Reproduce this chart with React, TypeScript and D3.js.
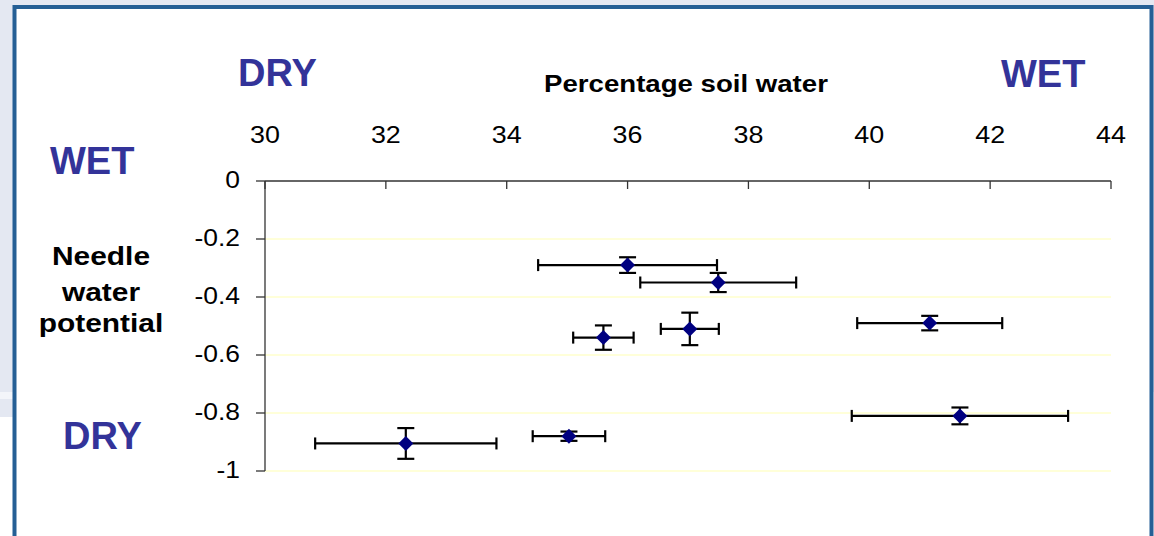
import React from "react";
import * as d3 from "d3";

// Soil water (%) and needle water potential, with standard errors on both axes
const soilWater = [36.0, 37.5, 35.6, 37.03, 41.0, 41.5, 32.33, 35.03];
const soilWaterErr = [1.48, 1.29, 0.5, 0.48, 1.2, 1.79, 1.5, 0.6];
const needlePotential = [-0.29, -0.35, -0.54, -0.51, -0.49, -0.81, -0.905, -0.88];
const needleErr = [0.027, 0.033, 0.042, 0.056, 0.025, 0.029, 0.053, 0.016];

const xTicks = [30, 32, 34, 36, 38, 40, 42, 44];
const yTicks = [0, -0.2, -0.4, -0.6, -0.8, -1];
const gridTicks = [-0.2, -0.4, -0.6, -0.8, -1];

const W = 1154;
const H = 536;
const FONT = "'Liberation Sans', Arial, Helvetica, sans-serif";
const BLUE = "#333399";
const STRETCH = 1.15;

const x = d3.scaleLinear().domain([30, 44]).range([265, 1111]);
const y = d3.scaleLinear().domain([0, -1]).range([181, 471]);

const diamond = d3.symbol().type(d3.symbolSquare).size(112)() as string;

// plain hyphen for negatives, as the spreadsheet axis prints them
const fmtY = (v: number) => String(+v.toFixed(1));

function Wide({
  x: tx,
  y: ty,
  size,
  anchor = "start",
  children,
  bold = false,
  sx = STRETCH,
}: {
  x: number;
  y: number;
  size: number;
  anchor?: "start" | "middle" | "end";
  children: React.ReactNode;
  bold?: boolean;
  sx?: number;
}) {
  return (
    <text
      transform={`translate(${tx},${ty}) scale(${sx},1)`}
      fontSize={size}
      fontWeight={bold ? "bold" : "normal"}
      textAnchor={anchor}
      fontFamily={FONT}
      fill="#000"
    >
      {children}
    </text>
  );
}

export default function App() {
  const capH = 6;
  const capV = 8.5;
  return (
    <div style={{ position: "fixed", left: 0, top: 0, width: W, height: H }}>
      <svg width={W} height={H} style={{ display: "block" }}>
        {/* slide backdrop */}
        <rect x={0} y={0} width={W} height={H} fill="#ffffff" />
        <rect x={0} y={0} width={W} height={392} fill="#e4e8f2" />
        <rect x={0} y={392} width={16} height={7} fill="#f3f5fa" />
        <rect x={0} y={399} width={16} height={18} fill="#e4e8f2" />
        {/* framed panel */}
        <rect x={16} y={9} width={1134} height={H} fill="#ffffff" />
        <path
          d={`M14.5,${H} V7 H1151.5 V${H}`}
          fill="none"
          stroke="#255f95"
          strokeWidth={4}
        />

        {/* gridlines */}
        {gridTicks.map((t) => (
          <line
            key={`g${t}`}
            x1={x(30)}
            x2={x(44)}
            y1={y(t)}
            y2={y(t)}
            stroke="#ffffcc"
            strokeWidth={1.5}
          />
        ))}

        {/* x axis along the top */}
        <line x1={x(30)} x2={x(44)} y1={y(0)} y2={y(0)} stroke="#333" strokeWidth={1.3} />
        {xTicks.map((t) => (
          <g key={`x${t}`}>
            <line x1={x(t)} x2={x(t)} y1={y(0)} y2={y(0) + 8} stroke="#333" strokeWidth={1.3} />
            <Wide x={x(t)} y={143} size={24} anchor="middle" sx={1.12}>
              {d3.format("d")(t)}
            </Wide>
          </g>
        ))}

        {/* y axis */}
        <line x1={x(30)} x2={x(30)} y1={y(0)} y2={y(-1)} stroke="#333" strokeWidth={1.3} />
        {yTicks.map((t) => (
          <g key={`y${t}`}>
            <line x1={x(30) - 9} x2={x(30)} y1={y(t)} y2={y(t)} stroke="#333" strokeWidth={1.3} />
            <Wide x={240} y={y(t) + 7} size={23} anchor="end">
              {fmtY(t)}
            </Wide>
          </g>
        ))}

        {/* axis titles */}
        <Wide x={686} y={92} size={24} anchor="middle" bold>
          Percentage soil water
        </Wide>
        <Wide x={101} y={265} size={26} anchor="middle" bold>
          Needle
        </Wide>
        <Wide x={101} y={301} size={26} anchor="middle" bold>
          water
        </Wide>
        <Wide x={101} y={332} size={26} anchor="middle" bold>
          potential
        </Wide>

        {/* direction labels */}
        <text x={238} y={86} fontSize={38} fontWeight="bold" fill={BLUE} fontFamily={FONT}>
          DRY
        </text>
        <text x={1001} y={87} fontSize={38} fontWeight="bold" fill={BLUE} fontFamily={FONT}>
          WET
        </text>
        <text x={50} y={174} fontSize={38} fontWeight="bold" fill={BLUE} fontFamily={FONT}>
          WET
        </text>
        <text x={63} y={449} fontSize={38} fontWeight="bold" fill={BLUE} fontFamily={FONT}>
          DRY
        </text>

        {/* error bars and points */}
        {soilWater.map((sw, i) => {
          const cx = x(sw);
          const cy = y(needlePotential[i]);
          const xl = x(sw - soilWaterErr[i]);
          const xr = x(sw + soilWaterErr[i]);
          const yt = y(needlePotential[i] + needleErr[i]);
          const yb = y(needlePotential[i] - needleErr[i]);
          return (
            <g key={`p${i}`} stroke="#000" strokeWidth={2.2} fill="none">
              <line x1={xl} x2={xr} y1={cy} y2={cy} />
              <line x1={xl} x2={xl} y1={cy - capH} y2={cy + capH} />
              <line x1={xr} x2={xr} y1={cy - capH} y2={cy + capH} />
              <line x1={cx} x2={cx} y1={yt} y2={yb} />
              <line x1={cx - capV} x2={cx + capV} y1={yt} y2={yt} />
              <line x1={cx - capV} x2={cx + capV} y1={yb} y2={yb} />
              <path
                d={diamond}
                transform={`translate(${cx},${cy}) rotate(45)`}
                fill="#000080"
                stroke="none"
              />
            </g>
          );
        })}
      </svg>
    </div>
  );
}
